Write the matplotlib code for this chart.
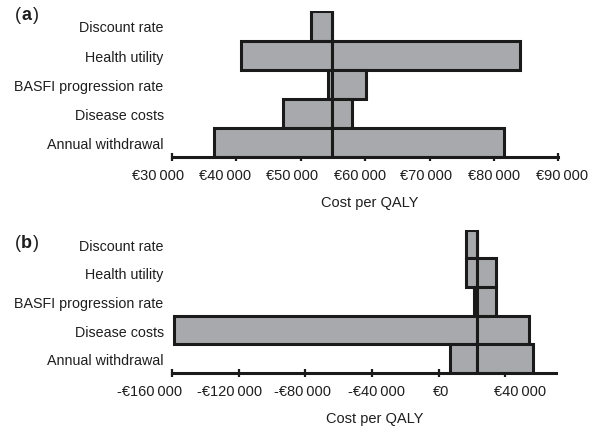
import matplotlib
matplotlib.use("Agg")
import matplotlib.pyplot as plt
from matplotlib.transforms import ScaledTranslation
import numpy as np

plt.rcParams['font.family'] = ['Liberation Sans', 'DejaVu Sans']

categories = ["Discount rate", "Health utility", "BASFI progression rate",
              "Disease costs", "Annual withdrawal"]

# Panel (a)
a_base = 54800
a_low = [51600, 40700, 54300, 47300, 36600]
a_high = [54800, 84100, 60100, 58000, 81600]
a_ticks = [30000, 40000, 50000, 60000, 70000, 80000, 90000]

# Panel (b)
b_base = 22800
b_low = [16400, 16400, 21200, -158800, 7000]
b_high = [22800, 34200, 34200, 54200, 56800]
b_ticks = [-160000, -120000, -80000, -40000, 0, 40000]

# horizontal shift of tick labels as set in the original figure (pixels)
a_label_shift = [-14, -11.7, -8.5, -5.5, -3.3, 0, 3.3]
b_label_shift = [-22.7, -9.3, -2.7, 5, 2.5, 14.3]

FILL = "#a8a9ac"
EDGE = "#1a1a1a"
TXT = "#1e1e1e"
W, H = 589, 427


def fmt(v):
    s = f"{abs(v):,}".replace(",", "\u2009")
    return ("-" if v < 0 else "") + "\u20ac" + s


def panel(rect, base, low, high, ticks, shifts, xlim, letter, letter_y,
          xlabel_xy):
    ax = fig.add_axes(rect)
    y = np.arange(len(categories))
    low = np.array(low, float)
    high = np.array(high, float)
    ax.barh(y, base - low, left=low, height=1.0, color=FILL,
            edgecolor=EDGE, linewidth=2.2, zorder=2)
    ax.barh(y, high - base, left=base, height=1.0, color=FILL,
            edgecolor=EDGE, linewidth=2.2, zorder=2)
    ax.set_ylim(len(categories) - 0.5, -0.5)
    ax.set_xlim(*xlim)
    ax.set_yticks(y)
    ax.set_yticklabels(categories, fontsize=10.3, color=TXT)
    ax.tick_params(axis='y', length=0, pad=6)
    ax.set_xticks(ticks)
    ax.set_xticklabels([fmt(t) for t in ticks], fontsize=10.5, color=TXT)
    ax.tick_params(axis='x', direction='inout', length=6, width=1.6,
                   color=EDGE, pad=5)
    for lab, dx in zip(ax.get_xticklabels(), shifts):
        lab.set_transform(lab.get_transform() +
                          ScaledTranslation(dx / 100, 0, fig.dpi_scale_trans))
    for s in ['top', 'right', 'left']:
        ax.spines[s].set_visible(False)
    ax.spines['bottom'].set_linewidth(2.2)
    ax.spines['bottom'].set_color(EDGE)
    ax.spines['bottom'].set_zorder(3)
    ax.set_xlabel("Cost per QALY", fontsize=10.5, color=TXT)
    ax.xaxis.set_label_coords(*xlabel_xy)
    ax.patch.set_visible(False)
    # panel letter
    fy = 1 - letter_y / H
    fig.text(15 / W, fy, "(", fontsize=13, va='center', ha='left', color=TXT)
    fig.text(21 / W, fy, letter, fontsize=13, fontweight='bold', va='center',
             ha='left', color=TXT)
    fig.text(33 / W, fy, ")", fontsize=13, va='center', ha='left', color=TXT)
    return ax


fig = plt.figure(figsize=(W / 100, H / 100), dpi=100)

ax_a = panel([172 / W, 1 - 158.3 / H, 386.3 / W, 146 / H],
             a_base, a_low, a_high, a_ticks, a_label_shift, (30000, 90000),
             "a", 16, (0.513, -0.258))

ax_b = panel([172 / W, 1 - 374 / H, 384 / W, 143.3 / H],
             b_base, b_low, b_high, b_ticks, b_label_shift, (-160000, 70400),
             "b", 244, (0.529, -0.262))

fig.savefig("out.png", dpi=100)
